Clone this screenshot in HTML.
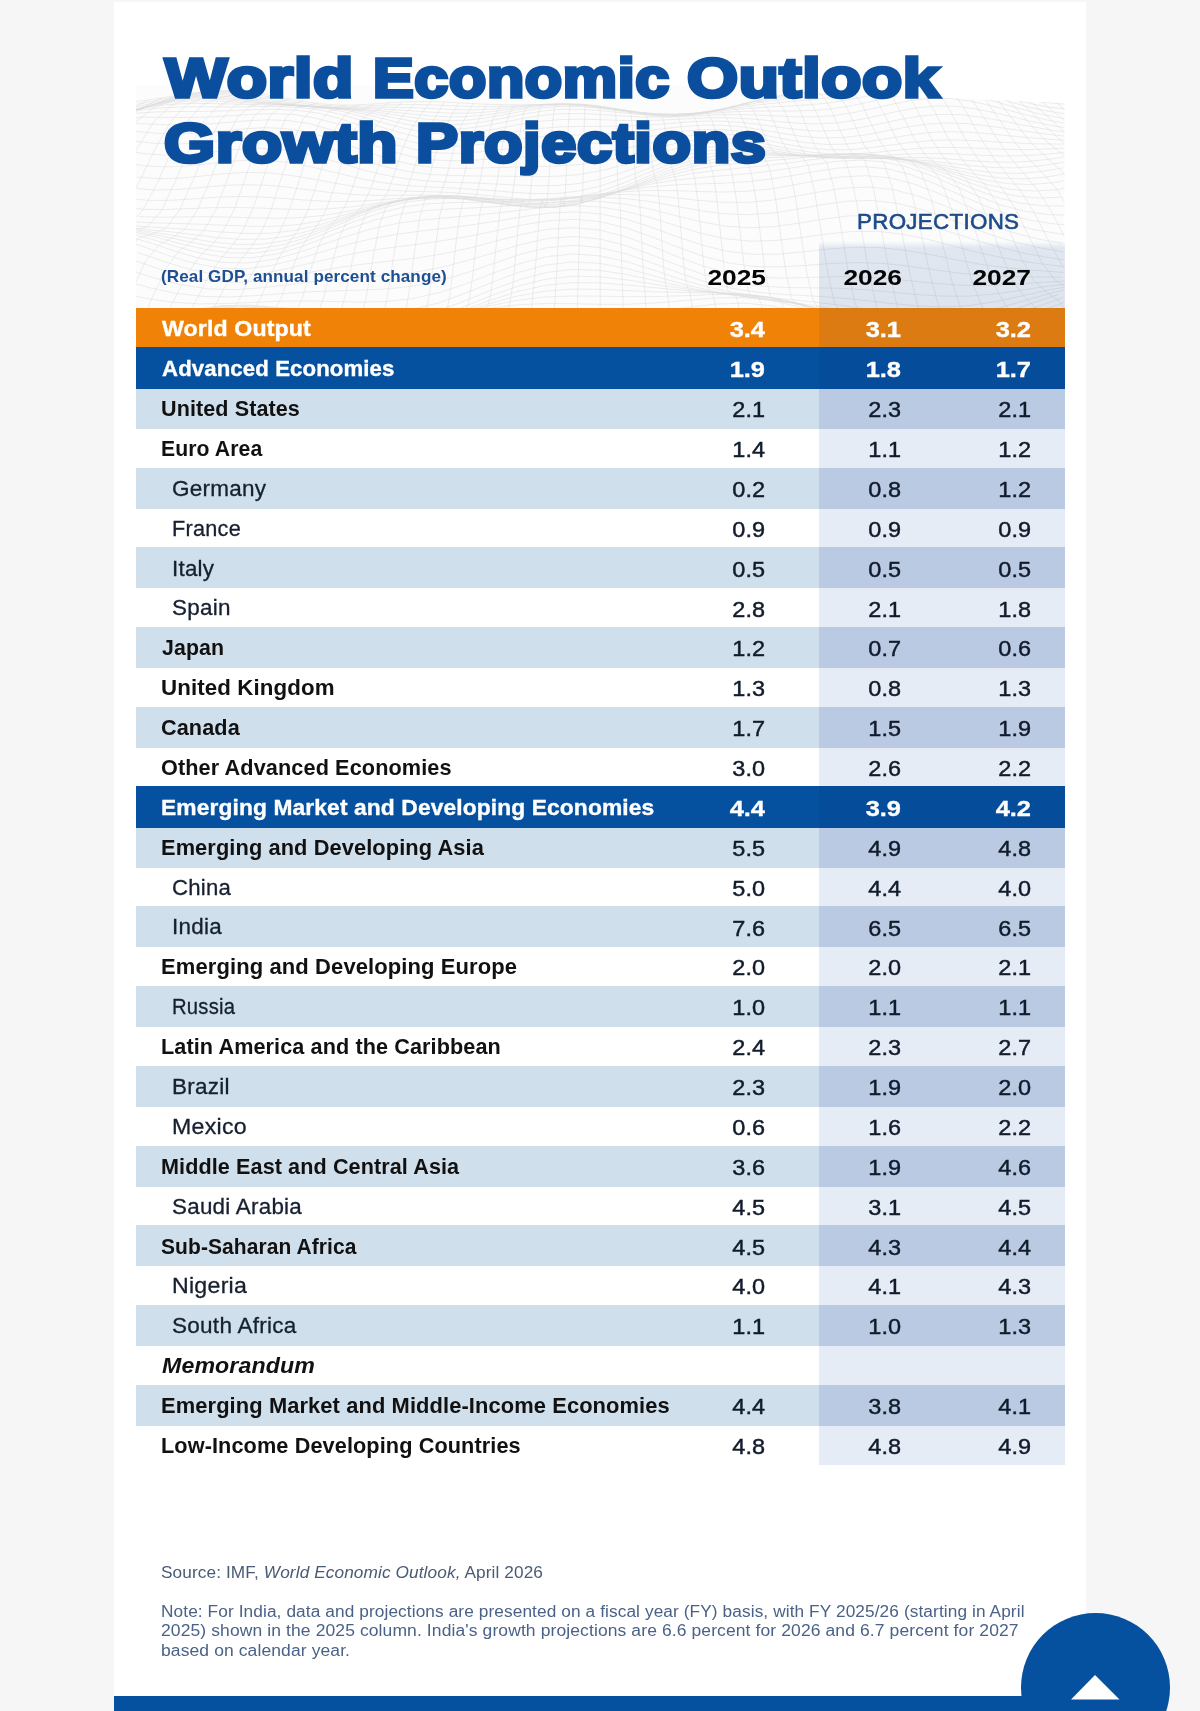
<!DOCTYPE html>
<html lang="en"><head><meta charset="utf-8"><title>World Economic Outlook Growth Projections</title>
<style>
html,body{margin:0;padding:0}
body{width:1200px;height:1711px;position:relative;overflow:hidden;background:#f6f6f6;font-family:'Liberation Sans',sans-serif;color:#111}
.abs,.t,.r,.p,.v,.h{position:absolute}
.t,.v,.h{white-space:nowrap;line-height:1;transform-origin:0 0}
#card{left:113.8px;top:2px;width:971.8px;height:1709px;background:#fff}
.r{left:136px;width:928.5px}
.p{left:819px;width:245.5px}
.orange{background:#f08307}.blue{background:#05509f}.light{background:#cfdfec}.white{background:#fff}
.p.orange{background:#dc7b12}.p.blue{background:#054c9a}.p.light{background:#b9cae2}.p.white{background:#e6ecf5}
.v{text-align:right;width:80px;transform-origin:100% 0}
.w{color:#fff;-webkit-text-stroke:.35px #fff}
.t,.v,.h{z-index:3}.r.blue,.p.blue{z-index:2}.r.light,.p.light{z-index:1}
.main,.memo{color:#111}.sub{color:#16202f}
.v.main,.v.sub{-webkit-text-stroke:.45px #111b2b;color:#111b2b}.t.sub{-webkit-text-stroke:.3px #16202f}
.h{color:#0a4e9d;-webkit-text-stroke:3.6px #0a4e9d;transform-origin:0 0;font:bold 55.8px/1 'Liberation Sans',sans-serif}
</style></head><body>
<div id="card" class="abs"></div>

<svg class="abs" style="left:136px;top:85.2px;clip-path:polygon(0 0,58% 0,72% 3%,100% 8%,100% 100%,0 100%)" width="928.5" height="223.0" viewBox="0 0 928.5 223.0"><rect width="928.5" height="223.0" fill="#fcfcfc"/><path d="M-13,17.9 5,16.0 22,13.5 40,10.6 58,7.9 75,6.1 93,5.6 111,6.7 128,9.2 146,12.5 164,15.8 181,18.5 199,19.9 217,20.0 234,19.2 252,17.9 270,16.9 288,16.5 305,16.9 323,17.8 341,18.8 358,19.6 376,19.9 394,19.8 411,19.6 429,19.9 447,20.9 464,23.0 482,25.8 500,28.6 517,30.9 535,31.7 553,30.7 570,28.0 588,24.0 606,19.3 623,14.8 641,11.0 659,8.1 676,6.1 694,4.6 712,3.1 729,1.4 747,-0.3 765,-1.9 782,-2.8 800,-2.6 818,-1.1 835,1.3 853,4.1 871,6.7 888,8.3 906,8.5 924,7.5 941,5.7 M-20,22.2 -2,19.7 16,16.4 34,12.7 52,9.4 70,7.1 88,6.4 106,7.5 124,10.1 141,13.6 159,17.0 177,19.7 195,21.2 213,21.4 231,20.9 249,20.1 267,19.5 285,19.6 303,20.2 321,21.0 339,21.6 357,21.7 375,21.1 393,20.1 410,19.2 428,19.0 446,19.9 464,22.0 482,24.8 500,27.8 518,30.1 536,30.9 554,29.8 572,27.1 590,23.1 608,18.6 626,14.4 644,10.9 662,8.1 679,5.9 697,4.0 715,1.9 733,-0.3 751,-2.6 769,-4.3 787,-5.1 805,-4.4 823,-2.2 841,1.0 859,4.7 877,7.9 895,10.1 913,10.8 930,10.2 948,8.7 M-9,23.8 9,19.8 28,15.3 46,11.4 64,8.7 82,7.8 100,8.8 119,11.4 137,14.8 155,18.1 173,20.7 191,22.2 210,22.7 228,22.5 246,22.2 264,22.3 282,22.9 301,23.8 319,24.6 337,24.8 355,24.2 373,22.7 391,20.9 410,19.3 428,18.7 446,19.4 464,21.4 482,24.3 501,27.3 519,29.5 537,30.2 555,29.1 573,26.5 592,22.8 610,18.7 628,15.0 646,11.9 664,9.4 683,7.1 701,4.9 719,2.3 737,-0.6 755,-3.3 773,-5.2 792,-5.8 810,-4.6 828,-1.8 846,2.2 864,6.6 883,10.5 901,13.2 919,14.3 937,14.2 M-15,27.8 3,23.0 22,17.9 40,13.4 58,10.4 77,9.2 95,10.1 114,12.6 132,15.7 151,18.8 169,21.2 188,22.7 206,23.3 224,23.6 243,24.0 261,24.9 280,26.1 298,27.4 317,28.2 335,28.1 354,26.8 372,24.6 390,22.0 409,19.8 427,18.8 446,19.3 464,21.2 483,24.1 501,27.0 520,29.0 538,29.6 556,28.5 575,26.1 593,22.9 612,19.5 630,16.4 649,13.9 667,11.7 686,9.6 704,7.0 723,3.9 741,0.6 759,-2.5 778,-4.5 796,-4.9 815,-3.3 833,0.1 852,4.8 870,9.7 889,14.1 907,17.2 925,18.9 944,19.3 M-3,25.9 15,20.3 34,15.4 53,12.0 71,10.7 90,11.4 109,13.5 128,16.4 146,19.1 165,21.2 184,22.5 202,23.4 221,24.3 240,25.5 258,27.2 277,29.2 296,31.0 315,31.9 333,31.5 352,29.7 371,26.8 389,23.6 408,20.9 427,19.6 446,19.9 464,21.7 483,24.4 502,27.0 520,28.8 539,29.2 558,28.2 576,26.1 595,23.5 614,20.9 633,18.7 651,16.9 670,15.2 689,13.2 707,10.4 726,7.0 745,3.2 764,-0.2 782,-2.3 801,-2.5 820,-0.6 838,3.3 857,8.5 876,13.9 894,18.6 913,22.1 932,24.2 M-10,28.3 9,22.3 28,17.1 47,13.7 66,12.2 85,12.7 104,14.4 123,16.8 142,19.0 161,20.7 180,22.0 199,23.2 218,24.6 237,26.7 256,29.4 275,32.3 294,34.6 313,35.7 332,35.1 350,32.9 369,29.5 388,25.9 407,22.9 426,21.4 445,21.5 464,23.1 483,25.4 502,27.7 521,29.1 540,29.3 559,28.4 578,26.6 597,24.7 616,23.1 635,21.9 654,21.0 673,19.8 692,18.0 711,15.1 730,11.4 749,7.2 768,3.6 787,1.5 806,1.4 825,3.7 844,7.9 862,13.3 881,18.9 900,23.8 919,27.4 938,29.9 M-16,30.1 3,24.0 22,18.8 41,15.4 61,13.9 80,14.1 99,15.4 118,17.2 137,18.9 157,20.2 176,21.4 195,22.8 214,25.0 234,28.0 253,31.7 272,35.4 291,38.4 310,39.7 330,39.1 349,36.7 368,33.0 387,29.2 407,26.0 426,24.3 445,24.3 464,25.6 483,27.5 503,29.3 522,30.2 541,30.1 560,29.2 580,27.9 599,26.7 618,26.1 637,26.0 656,26.0 676,25.5 695,23.9 714,21.0 733,17.0 753,12.6 772,8.9 791,6.8 810,6.9 829,9.3 849,13.7 868,19.1 887,24.6 906,29.4 926,33.1 945,35.8 M-3,25.5 16,20.6 36,17.3 55,15.9 75,15.9 94,16.8 114,18.0 133,19.0 153,19.9 172,21.0 192,22.7 211,25.6 231,29.6 250,34.4 269,39.0 289,42.5 308,44.2 328,43.6 347,41.2 367,37.4 386,33.5 406,30.4 425,28.7 445,28.5 464,29.4 484,30.8 503,31.9 523,32.2 542,31.7 562,30.7 581,29.8 601,29.5 620,30.0 640,30.9 659,31.8 679,31.9 698,30.6 717,27.7 737,23.6 756,19.2 776,15.4 795,13.4 815,13.6 834,16.1 854,20.4 873,25.5 893,30.7 912,35.2 932,38.8 M-9,26.9 10,22.5 30,19.7 50,18.5 70,18.4 89,18.9 109,19.4 129,19.8 148,20.2 168,21.2 188,23.3 208,26.9 227,31.9 247,37.6 267,43.0 287,47.1 306,49.2 326,48.8 346,46.4 366,42.9 385,39.1 405,36.2 425,34.6 445,34.2 464,34.7 484,35.4 504,35.6 523,35.2 543,34.2 563,33.1 583,32.6 602,33.1 622,34.5 642,36.5 662,38.2 681,38.9 701,37.9 721,35.1 741,31.0 760,26.6 780,22.9 800,21.0 820,21.3 839,23.8 859,27.8 879,32.4 898,37.0 918,40.9 938,44.2 M-16,28.6 4,25.0 24,22.9 44,22.0 64,21.8 84,21.9 104,21.8 124,21.5 144,21.5 164,22.5 184,25.0 204,29.2 224,35.0 244,41.6 264,47.7 284,52.4 304,54.8 324,54.7 344,52.6 364,49.4 384,46.0 404,43.4 424,41.9 444,41.4 464,41.4 484,41.2 504,40.5 524,39.2 544,37.6 564,36.3 584,36.1 604,37.3 624,39.6 644,42.4 664,44.9 684,46.1 704,45.3 724,42.7 744,38.7 764,34.5 784,31.1 804,29.4 824,29.7 844,32.0 864,35.5 884,39.5 904,43.2 924,46.4 944,49.2 M-2,28.3 19,27.0 39,26.5 59,26.5 79,26.2 100,25.5 120,24.6 140,24.3 160,25.2 181,27.9 201,32.8 221,39.3 241,46.6 262,53.3 282,58.3 302,61.0 322,61.2 343,59.5 363,56.8 383,54.0 403,51.9 424,50.6 444,49.9 464,49.2 485,48.1 505,46.3 525,44.0 545,41.7 566,40.2 586,40.2 606,41.8 626,44.9 647,48.4 667,51.5 687,53.0 707,52.5 728,50.1 748,46.4 768,42.5 788,39.4 809,38.0 829,38.5 849,40.5 869,43.3 890,46.3 910,49.0 930,51.3 M-7,32.5 13,32.2 34,32.4 54,32.5 75,31.9 95,30.7 116,29.3 136,28.6 157,29.5 177,32.5 198,37.9 218,44.9 239,52.6 259,59.6 280,64.9 300,67.8 321,68.4 341,67.1 362,65.0 382,62.9 403,61.3 423,60.3 444,59.3 464,58.0 485,55.9 505,52.9 526,49.5 546,46.4 567,44.5 587,44.6 608,46.6 628,50.1 649,54.2 669,57.6 690,59.4 710,59.1 731,56.9 751,53.6 772,50.2 792,47.7 813,46.6 833,47.2 854,48.8 874,50.9 895,52.8 915,54.3 936,55.5 M-13,37.9 7,38.8 28,39.7 49,40.0 70,39.2 90,37.6 111,35.8 132,34.8 153,35.6 174,38.8 194,44.4 215,51.8 236,59.6 257,66.7 277,72.0 298,75.0 319,75.8 340,75.1 360,73.8 381,72.4 402,71.4 423,70.6 443,69.4 464,67.4 485,64.2 506,59.9 527,55.3 547,51.4 568,49.1 589,49.1 610,51.3 630,55.1 651,59.4 672,62.9 693,64.8 713,64.7 734,62.8 755,60.0 776,57.3 797,55.4 817,54.9 838,55.5 859,56.8 880,58.0 900,58.8 921,59.0 942,59.1 M-19,44.5 2,46.7 23,48.4 44,48.9 65,48.0 86,46.0 107,43.9 128,42.7 149,43.5 170,46.8 191,52.5 212,59.8 233,67.5 254,74.3 275,79.4 296,82.3 317,83.3 338,83.2 359,82.6 380,82.1 401,81.7 422,81.1 443,79.7 464,76.8 485,72.5 506,67.0 527,61.3 548,56.5 569,53.7 590,53.5 611,55.6 632,59.4 653,63.7 674,67.1 696,69.0 717,69.0 738,67.5 759,65.4 780,63.5 801,62.4 822,62.5 843,63.3 864,64.2 885,64.6 906,64.2 927,63.2 948,62.2 M-4,55.8 17,58.2 39,59.1 60,58.1 81,56.0 102,53.6 124,52.2 145,53.0 166,56.2 188,61.8 209,68.8 230,76.0 251,82.2 273,86.7 294,89.4 315,90.5 337,90.9 358,91.1 379,91.4 400,91.6 422,91.2 443,89.5 464,85.9 486,80.4 507,73.8 528,67.0 549,61.4 571,58.1 592,57.5 613,59.5 635,63.0 656,66.9 677,70.1 698,71.8 720,71.9 741,70.8 762,69.5 783,68.6 805,68.5 826,69.3 847,70.4 869,71.0 890,70.6 911,69.1 932,67.0 M-10,65.9 12,69.1 33,70.2 55,69.3 77,67.0 98,64.6 120,63.2 141,63.8 163,66.9 184,72.1 206,78.5 227,84.8 249,90.1 270,93.8 292,96.0 313,97.2 335,97.9 357,98.9 378,99.9 400,100.8 421,100.5 443,98.5 464,94.1 486,87.6 507,79.9 529,72.2 550,65.9 572,62.1 593,61.1 615,62.6 637,65.7 658,69.1 680,71.8 701,73.1 723,73.3 744,72.8 766,72.4 787,72.6 809,73.7 830,75.3 852,76.8 874,77.2 895,76.2 917,73.7 938,70.5 M-15,76.6 6,80.5 28,81.9 50,81.1 72,78.9 94,76.4 115,75.0 137,75.6 159,78.5 181,83.1 203,88.5 224,93.6 246,97.6 268,100.3 290,101.8 312,102.8 333,104.0 355,105.5 377,107.3 399,108.6 421,108.5 442,106.1 464,101.1 486,93.7 508,85.2 530,76.7 551,69.9 573,65.6 595,64.2 617,65.2 639,67.6 660,70.2 682,72.2 704,73.2 726,73.5 748,73.6 769,74.2 791,75.7 813,78.1 835,80.7 857,82.5 878,82.9 900,81.4 922,78.2 944,74.2 M1,91.9 23,93.7 45,93.1 67,90.9 89,88.6 111,87.4 133,87.9 155,90.4 178,94.2 200,98.3 222,102.0 244,104.5 266,105.9 288,106.6 310,107.3 332,108.7 354,110.8 376,113.1 398,114.9 420,114.8 442,112.1 464,106.5 486,98.6 508,89.4 530,80.5 552,73.3 575,68.7 597,66.9 619,67.3 641,68.8 663,70.6 685,71.8 707,72.4 729,72.7 751,73.5 773,75.2 795,78.2 817,81.9 839,85.5 861,87.9 883,88.4 905,86.5 927,82.9 M-4,103.0 18,105.0 40,104.6 63,102.8 85,100.7 107,99.7 130,100.2 152,102.2 174,105.0 196,107.7 219,109.6 241,110.4 263,110.3 286,110.1 308,110.4 330,111.9 353,114.4 375,117.3 397,119.3 420,119.2 442,116.3 464,110.3 487,102.0 509,92.5 531,83.5 554,76.3 576,71.5 598,69.4 620,69.1 643,69.7 665,70.4 687,70.8 710,70.9 732,71.4 754,72.9 777,75.9 799,80.3 821,85.4 844,90.1 866,93.2 888,93.9 911,92.0 933,88.1 M-10,113.2 13,115.4 35,115.3 58,113.8 81,112.2 103,111.5 126,112.0 148,113.5 171,115.2 193,116.4 216,116.4 239,115.3 261,113.6 284,112.3 306,112.2 329,113.7 351,116.5 374,119.6 397,121.8 419,121.8 442,118.7 464,112.5 487,104.1 509,94.7 532,85.9 555,78.9 577,74.3 600,71.8 622,70.9 645,70.6 667,70.3 690,69.8 713,69.5 735,70.1 758,72.4 780,76.6 803,82.5 825,88.9 848,94.7 871,98.6 893,99.6 916,97.9 938,94.1 M-15,122.0 8,124.4 30,124.5 53,123.6 76,122.7 99,122.4 122,123.0 145,124.0 167,124.5 190,124.0 213,122.1 236,119.1 259,115.8 282,113.5 304,112.8 327,114.2 350,117.1 373,120.4 396,122.6 419,122.5 441,119.3 464,113.2 487,105.0 510,96.1 533,88.0 556,81.6 578,77.3 601,74.7 624,73.2 647,72.0 670,70.6 693,69.3 715,68.6 738,69.5 761,72.6 784,78.0 807,85.2 830,93.0 852,99.8 875,104.4 898,106.0 921,104.6 944,101.2 M3,131.6 26,132.2 49,131.9 72,131.7 95,132.1 118,132.8 141,133.3 164,132.7 187,130.5 210,126.7 233,121.8 256,117.1 280,113.7 303,112.5 326,113.6 349,116.5 372,119.8 395,122.0 418,121.8 441,118.7 464,112.8 487,105.2 510,97.2 534,90.1 557,84.6 580,80.8 603,78.3 626,76.3 649,74.3 672,72.0 695,69.9 718,68.9 741,70.1 764,73.9 787,80.5 811,89.0 834,97.9 857,105.7 880,110.9 903,113.0 926,112.2 M-3,137.0 21,138.0 44,138.6 67,139.3 91,140.3 114,141.3 137,141.4 161,139.7 184,136.0 207,130.4 231,123.8 254,117.7 277,113.4 301,111.6 324,112.5 348,115.2 371,118.4 394,120.3 418,120.1 441,117.0 464,111.7 488,105.0 511,98.3 534,92.5 558,88.3 581,85.3 604,83.1 628,80.8 651,78.0 674,74.9 698,72.1 721,71.0 744,72.4 768,77.0 791,84.5 814,94.0 838,103.9 861,112.4 884,118.2 908,120.9 931,120.8 M-8,140.5 16,142.0 39,143.5 63,145.2 87,147.1 110,148.5 134,148.2 157,145.7 181,140.6 205,133.4 228,125.4 252,118.2 275,113.1 299,110.8 323,111.4 346,113.8 370,116.6 393,118.2 417,117.8 441,115.0 464,110.3 488,104.9 511,99.8 535,95.7 559,93.0 582,91.1 606,89.2 629,86.8 653,83.4 677,79.6 700,76.4 724,75.1 747,76.8 771,82.0 795,90.4 818,100.7 842,111.1 865,120.1 889,126.3 913,129.6 936,130.3 M-13,142.3 11,144.5 35,146.9 59,149.8 82,152.7 106,154.4 130,154.1 154,150.8 178,144.6 202,136.2 226,127.1 250,119.0 273,113.3 297,110.6 321,110.8 345,112.7 369,115.0 393,116.2 417,115.6 440,113.1 464,109.3 488,105.3 512,102.1 536,100.0 560,99.0 584,98.3 607,97.0 631,94.5 655,90.8 679,86.5 703,83.0 727,81.6 751,83.7 774,89.4 798,98.3 822,108.9 846,119.6 870,128.7 894,135.2 918,138.9 941,140.4 M-18,142.9 6,145.7 30,149.2 54,153.3 78,157.2 102,159.5 127,159.1 151,155.3 175,148.3 199,139.0 223,129.2 247,120.6 271,114.5 295,111.6 320,111.3 344,112.7 368,114.3 392,114.9 416,114.0 440,111.8 464,109.1 488,106.7 512,105.5 537,105.6 561,106.4 585,107.0 609,106.4 633,104.1 657,100.1 681,95.6 705,91.9 730,90.7 754,92.9 778,99.0 802,108.1 826,118.7 850,129.3 874,138.2 898,144.6 922,148.6 947,150.8 M1,146.2 25,150.9 50,156.2 74,161.0 99,163.9 123,163.6 147,159.6 172,152.1 196,142.4 220,132.3 245,123.5 269,117.3 294,114.1 318,113.4 342,114.1 367,114.8 391,114.8 415,113.6 440,111.7 464,110.0 489,109.4 513,110.3 537,112.6 562,115.3 586,117.2 611,117.4 635,115.3 659,111.4 684,106.8 708,103.1 732,102.0 757,104.5 781,110.7 806,119.6 830,129.9 854,139.8 879,148.1 903,154.2 927,158.3 M-4,146.6 21,152.4 45,158.8 70,164.6 95,168.1 119,168.1 144,164.0 169,156.5 193,146.7 218,136.7 243,128.2 267,122.1 292,118.8 316,117.6 341,117.4 366,117.1 390,116.2 415,114.6 440,113.0 464,112.4 489,113.5 514,116.5 538,120.9 563,125.4 587,128.7 612,129.7 637,128.0 661,124.2 686,119.7 711,116.3 735,115.4 760,118.1 784,124.1 809,132.6 834,142.0 858,150.9 883,158.2 908,163.6 932,167.6 M-9,147.6 16,154.3 41,161.8 66,168.5 91,172.5 116,172.8 141,168.9 166,161.6 190,152.2 215,142.8 240,134.7 265,129.0 290,125.6 315,123.9 340,122.8 365,121.4 390,119.5 414,117.4 439,116.0 464,116.4 489,119.1 514,124.1 539,130.4 564,136.6 589,141.1 614,142.8 638,141.6 663,138.1 688,134.0 713,130.9 738,130.4 763,133.1 788,138.8 813,146.5 838,154.6 863,162.0 887,168.0 912,172.5 937,176.2 M-14,149.7 12,157.2 37,165.5 62,172.9 87,177.4 112,178.0 137,174.5 162,167.6 188,159.1 213,150.5 238,143.3 263,138.1 288,134.8 313,132.5 339,130.3 364,127.6 389,124.6 414,121.9 439,120.7 464,121.9 489,126.1 515,132.7 540,140.7 565,148.3 590,153.8 615,156.2 640,155.5 665,152.6 691,149.0 716,146.5 741,146.3 766,149.1 791,154.2 816,160.7 841,167.2 867,172.8 892,177.1 917,180.3 942,183.5 M-18,153.4 7,161.5 32,170.4 58,178.2 83,183.0 109,183.8 134,180.8 159,174.7 185,167.2 210,159.8 236,153.7 261,149.2 286,145.9 312,143.0 337,139.7 363,135.7 388,131.5 413,128.1 439,126.9 464,128.8 490,134.1 515,142.1 540,151.4 566,160.0 591,166.3 617,169.3 642,169.2 667,166.9 693,164.0 718,162.2 744,162.6 769,165.3 795,169.7 820,174.8 845,179.4 871,182.8 896,185.1 922,187.0 947,189.4 M2,167.5 28,176.6 54,184.4 79,189.3 105,190.3 131,187.8 156,182.6 182,176.4 208,170.5 233,165.7 259,162.0 285,158.8 310,155.2 336,150.7 362,145.3 387,139.8 413,135.7 439,134.3 464,136.7 490,142.8 516,151.8 541,161.9 567,171.2 593,178.0 618,181.5 644,181.9 670,180.4 695,178.5 721,177.5 747,178.4 772,181.1 798,184.7 824,188.2 849,190.6 875,191.7 901,191.9 926,192.2 M-2,175.3 24,184.2 50,191.7 75,196.3 101,197.4 127,195.3 153,191.2 179,186.4 205,182.1 231,178.7 257,175.8 283,172.7 309,168.4 335,162.7 361,155.9 386,149.2 412,144.3 438,142.7 464,145.2 490,151.8 516,161.3 542,171.9 568,181.4 594,188.4 620,192.2 646,193.2 672,192.5 698,191.7 723,191.8 749,193.3 775,195.9 801,198.6 827,200.4 853,200.6 879,199.3 905,197.4 931,196.0 M-7,184.9 19,193.1 45,199.8 72,203.8 98,204.7 124,203.0 150,200.0 176,196.7 202,194.1 229,192.1 255,190.0 281,186.9 307,182.0 333,175.1 360,167.0 386,159.2 412,153.4 438,151.5 464,154.0 490,160.7 517,170.3 543,180.7 569,190.1 595,196.9 621,200.9 648,202.5 674,202.8 700,203.2 726,204.5 752,206.8 778,209.3 805,211.1 831,211.2 857,209.2 883,205.6 909,201.6 935,198.6 M-12,195.9 15,203.0 41,208.5 68,211.5 94,211.9 121,210.5 147,208.5 173,206.8 200,205.8 226,205.1 253,203.8 279,200.8 306,195.2 332,187.3 359,178.0 385,169.1 411,162.7 438,160.3 464,162.6 491,169.1 517,178.3 544,188.2 570,197.0 596,203.4 623,207.4 649,209.5 676,211.0 702,212.8 729,215.4 755,218.4 781,221.0 808,222.0 834,220.5 861,216.4 887,210.7 914,204.7 940,200.3 M-16,207.9 10,213.4 37,217.2 64,218.9 91,218.6 117,217.4 144,216.2 171,215.9 197,216.5 224,217.1 251,216.5 277,213.5 304,207.4 331,198.5 357,188.2 384,178.6 411,171.6 438,168.9 464,170.9 491,176.8 518,185.2 544,194.1 571,201.9 598,207.7 624,211.6 651,214.3 678,217.0 705,220.3 731,224.2 758,228.2 785,230.9 811,231.2 838,228.3 865,222.4 891,214.8 918,207.3 945,201.6 M6,223.8 33,225.6 60,225.7 87,224.5 114,223.2 141,222.8 168,223.7 195,225.6 222,227.4 249,227.4 276,224.4 303,217.8 329,208.3 356,197.4 383,187.2 410,180.0 437,176.9 464,178.4 491,183.6 518,190.9 545,198.5 572,205.0 599,210.0 626,213.7 653,217.1 680,220.9 707,225.8 734,231.2 761,236.2 788,239.2 815,238.9 842,234.8 869,227.5 895,218.5 922,209.7 M2,233.8 29,233.3 56,231.4 83,229.0 111,227.5 138,227.6 165,229.6 192,232.7 219,235.4 247,235.9 274,232.9 301,226.1 328,216.2 355,205.1 383,194.8 410,187.5 437,184.3 464,185.4 491,189.6 519,195.5 546,201.5 573,206.6 600,210.6 628,214.1 655,218.1 682,223.2 709,229.7 736,236.6 764,242.6 791,245.9 818,245.4 845,240.5 872,232.2 900,222.1 927,212.5 M-3,242.8 25,239.7 52,235.7 80,232.0 107,230.1 135,230.6 162,233.4 190,237.5 217,240.9 245,241.7 272,238.9 299,232.0 327,222.1 354,211.1 382,201.2 409,194.3 437,191.2 464,191.8 492,195.0 519,199.4 547,203.6 574,207.1 602,210.1 629,213.4 657,218.0 684,224.4 711,232.5 739,240.9 766,247.9 794,251.7 821,251.0 849,245.7 876,236.8 904,226.3 931,216.4 M-7,250.5 21,244.6 48,238.4 76,233.4 104,231.0 132,231.7 159,235.1 187,239.8 215,243.7 242,244.8 270,242.1 298,235.4 326,226.0 353,215.7 381,206.6 409,200.4 437,197.6 464,197.9 492,200.1 520,202.9 547,205.4 575,207.2 603,209.2 631,212.3 658,217.5 686,225.2 714,234.8 742,244.6 769,252.6 797,256.9 825,256.3 852,250.9 880,242.0 908,231.6 936,221.9 M-11,256.5 17,248.0 45,239.7 72,233.3 100,230.3 128,231.0 156,234.7 184,239.8 212,244.0 240,245.3 268,242.9 296,236.7 324,228.1 352,219.0 380,211.3 408,206.2 436,204.1 464,204.3 492,205.6 520,206.8 548,207.4 576,207.8 604,208.8 632,211.7 660,217.6 688,226.4 716,237.3 744,248.3 772,257.2 800,262.0 828,261.7 856,256.6 884,248.1 912,238.3 940,229.2 M-16,260.9 12,249.8 41,239.6 69,231.9 97,228.3 125,228.9 154,232.8 182,237.9 210,242.2 238,243.7 267,241.6 295,236.2 323,228.9 351,221.4 380,215.6 408,212.1 436,211.0 464,211.2 492,211.7 521,211.6 549,210.6 577,209.5 605,209.6 634,212.5 662,218.9 690,228.7 718,240.7 747,252.7 775,262.2 803,267.5 831,267.6 860,263.1 888,255.4 916,246.7 944,238.7 M8,250.5 37,238.5 65,229.8 94,225.6 122,226.0 151,229.8 179,234.8 208,238.9 236,240.5 265,238.8 293,234.5 322,228.9 350,223.7 379,220.1 407,218.6 436,218.7 464,219.3 493,219.2 521,217.9 550,215.4 578,213.1 607,212.5 635,215.3 664,222.2 692,232.8 721,245.6 749,258.1 778,268.1 806,273.7 835,274.3 863,270.6 892,264.1 920,256.8 M4,250.3 33,237.0 62,227.5 90,222.9 119,223.0 148,226.5 177,231.2 205,235.0 234,236.5 263,235.4 292,232.4 320,228.9 349,226.2 378,225.3 407,226.1 435,227.8 464,228.9 493,228.5 522,226.1 551,222.5 579,219.2 608,218.1 637,220.9 666,228.1 694,239.2 723,252.3 752,265.0 781,275.1 809,280.8 838,281.8 867,279.1 896,274.0 924,268.5 M0,249.9 29,235.8 58,225.9 87,221.0 116,220.8 145,223.8 174,227.9 203,231.2 232,232.7 261,232.2 290,230.7 319,229.6 348,229.8 377,231.8 406,235.1 435,238.5 464,240.4 493,239.8 522,236.8 551,232.3 580,228.3 609,226.9 638,229.6 667,236.9 696,248.1 725,261.1 754,273.6 783,283.2 812,288.8 841,290.2 870,288.5 899,285.0 928,281.4 M-4,249.9 25,235.6 54,225.6 84,220.6 113,220.1 142,222.5 172,225.8 201,228.5 230,229.8 259,230.0 289,230.2 318,231.5 347,234.8 376,239.9 406,245.9 435,251.0 464,253.8 494,253.3 523,249.9 552,244.9 581,240.5 611,238.8 640,241.5 669,248.8 698,259.7 728,272.1 757,283.7 786,292.5 816,297.6 845,299.2 874,298.4 903,296.6 933,294.9 M-8,251.0 21,237.0 51,227.4 80,222.5 110,221.7 139,223.3 169,225.7 198,227.6 228,228.7 258,229.6 287,231.5 317,235.4 346,241.7 376,249.9 405,258.4 435,265.4 464,269.1 494,269.0 523,265.4 553,260.2 582,255.6 612,253.9 641,256.5 671,263.5 700,273.6 730,284.9 760,295.0 789,302.5 819,306.8 848,308.4 878,308.4 907,308.2 937,308.4 M-2.4,17 -21.9,29 -41.5,38 -61.0,40 -80.6,40 -100.2,46 -119.7,60 -139.3,82 -158.8,102 -178.4,120 -198.0,138 -217.5,165 -237.1,206 -256.6,252 -276.2,290 -295.8,307 -315.3,301 M11.8,15 -7.2,26 -26.2,33 -45.1,36 -64.1,38 -83.1,47 -102.0,64 -121.0,87 -140.0,107 -158.9,123 -177.9,139 -196.9,165 -215.8,206 -234.8,253 -253.8,291 -272.7,307 -291.7,302 M25.9,13 7.5,22 -10.8,28 -29.2,32 -47.6,37 -66.0,49 -84.3,70 -102.7,94 -121.1,113 -139.5,127 -157.8,140 -176.2,164 -194.6,204 -213.0,251 -231.3,289 -249.7,306 -268.1,303 M40.1,11 22.3,18 4.5,24 -13.3,28 -31.1,36 -48.9,52 -66.6,76 -84.4,101 -102.2,120 -120.0,130 -137.8,141 -155.5,162 -173.3,200 -191.1,247 -208.9,287 -226.7,306 -244.5,305 M54.2,8 37.0,14 19.8,19 2.6,25 -14.6,35 -31.8,55 -48.9,82 -66.1,109 -83.3,126 -100.5,134 -117.7,141 -134.9,159 -152.1,196 -169.3,243 -186.5,284 -203.6,306 -220.8,308 M68.3,7 51.7,11 35.1,16 18.5,22 1.9,35 -14.6,58 -31.2,88 -47.8,115 -64.4,131 -81.0,137 -97.6,140 -114.2,157 -130.8,192 -147.4,239 -164.0,281 -180.6,306 -197.2,311 M82.5,6 66.5,9 50.5,14 34.5,21 18.5,36 2.5,61 -13.5,92 -29.6,120 -45.6,136 -61.6,139 -77.6,140 -93.6,155 -109.6,189 -125.6,236 -141.6,279 -157.6,305 -173.6,312 M96.6,6 81.2,9 65.8,13 50.4,20 35.0,36 19.6,63 4.1,95 -11.3,124 -26.7,139 -42.1,141 -57.5,141 -72.9,155 -88.3,189 -103.7,235 -119.1,277 -134.6,303 -150.0,311 M110.8,7 95.9,10 81.1,14 66.3,20 51.5,36 36.7,63 21.8,97 7.0,125 -7.8,140 -22.6,143 -37.4,144 -52.2,158 -67.1,191 -81.9,235 -96.7,275 -111.5,299 -126.3,307 M124.9,9 110.7,12 96.4,15 82.2,21 68.0,36 53.8,63 39.5,96 25.3,126 11.1,142 -3.1,145 -17.4,148 -31.6,162 -45.8,194 -60.0,236 -74.3,272 -88.5,293 -102.7,300 M139.0,11 125.4,14 111.8,16 98.1,21 84.5,35 70.9,61 57.2,95 43.6,125 30.0,143 16.3,149 2.7,153 -10.9,169 -24.6,199 -38.2,237 -51.8,268 -65.5,285 -79.1,290 M153.2,14 140.1,17 127.1,18 114.1,21 101.0,33 88.0,59 74.9,93 61.9,124 48.9,144 35.8,153 22.8,160 9.7,176 -3.3,204 -16.3,237 -29.4,263 -42.4,274 -55.5,278 M167.3,16 154.9,19 142.4,19 130.0,21 117.5,32 105.1,57 92.6,91 80.2,124 67.7,146 55.3,157 42.8,166 30.4,183 17.9,209 5.5,237 -7.0,256 -19.4,262 -31.8,264 M181.5,18 169.6,21 157.7,20 145.9,21 134.0,31 122.2,56 110.3,90 98.5,124 86.6,147 74.8,161 62.9,172 51.1,189 39.2,213 27.3,236 15.5,249 3.6,250 -8.2,251 M195.6,20 184.3,22 173.1,21 161.8,22 150.5,32 139.3,57 128.0,91 116.8,124 105.5,148 94.2,163 83.0,176 71.7,193 60.4,215 49.2,234 37.9,241 26.7,239 15.4,240 M209.7,20 199.1,23 188.4,22 177.7,23 167.1,34 156.4,59 145.7,92 135.0,125 124.4,149 113.7,164 103.0,177 92.4,195 81.7,216 71.0,231 60.4,235 49.7,231 39.0,231 M223.9,20 213.8,23 203.7,24 193.6,26 183.6,37 173.5,62 163.4,95 153.3,125 143.3,148 133.2,162 123.1,176 113.0,194 103.0,215 92.9,229 82.8,231 72.7,225 62.6,225 M238.0,19 228.5,24 219.0,25 209.6,29 200.1,42 190.6,67 181.1,98 171.6,126 162.1,145 152.7,158 143.2,172 133.7,192 124.2,214 114.7,229 105.2,230 95.8,222 86.3,222 M252.2,18 243.3,24 234.4,28 225.5,34 216.6,48 207.7,72 198.8,101 189.9,125 181.0,141 172.1,152 163.2,166 154.4,188 145.5,212 136.6,229 127.7,231 118.8,223 109.9,222 M266.3,17 258.0,24 249.7,30 241.4,39 233.1,54 224.8,78 216.5,103 208.2,123 199.9,135 191.6,144 183.3,159 175.0,184 166.7,212 158.4,231 150.1,233 141.8,225 133.5,223 M280.4,17 272.7,25 265.0,33 257.3,44 249.6,60 241.9,83 234.2,105 226.5,121 218.8,129 211.1,136 203.4,152 195.7,180 188.0,211 180.3,233 172.6,237 164.8,229 157.1,225 M294.6,17 287.5,26 280.3,36 273.2,48 266.1,65 259.0,87 251.9,107 244.8,118 237.7,122 230.6,128 223.4,145 216.3,176 209.2,211 202.1,236 195.0,241 187.9,232 180.8,227 M308.7,17 302.2,27 295.7,38 289.2,51 282.6,69 276.1,90 269.6,107 263.1,115 256.6,117 250.0,122 243.5,140 237.0,173 230.5,211 224.0,238 217.4,244 210.9,235 204.4,228 M322.9,18 316.9,28 311.0,39 305.1,53 299.1,71 293.2,92 287.3,108 281.4,114 275.4,113 269.5,117 263.6,136 257.7,171 251.7,210 245.8,238 239.9,245 233.9,236 228.0,229 M337.0,19 331.7,28 326.3,38 321.0,53 315.7,72 310.3,93 305.0,108 299.6,113 294.3,111 289.0,114 283.6,133 278.3,168 273.0,208 267.6,236 262.3,244 257.0,235 251.6,229 M351.1,19 346.4,27 341.6,37 336.9,51 332.2,72 327.4,93 322.7,109 317.9,113 313.2,111 308.5,113 303.7,131 299.0,165 294.2,204 289.5,232 284.7,239 280.0,233 275.3,231 M365.3,20 361.1,26 357.0,34 352.8,49 348.7,70 344.5,94 340.4,110 336.2,115 332.1,112 327.9,113 323.8,129 319.6,161 315.5,198 311.3,225 307.2,234 303.0,231 298.9,233 M379.4,20 375.9,24 372.3,31 368.7,46 365.2,69 361.6,94 358.1,112 354.5,118 351.0,114 347.4,114 343.8,128 340.3,157 336.7,191 333.2,216 329.6,227 326.1,228 322.5,236 M393.6,20 390.6,22 387.6,28 384.7,43 381.7,68 378.7,95 375.8,114 372.8,120 369.8,117 366.9,115 363.9,126 361.0,152 358.0,183 355.0,208 352.1,220 349.1,227 346.1,242 M407.7,20 405.3,20 402.9,26 400.6,41 398.2,67 395.8,95 393.5,116 391.1,122 388.7,118 386.4,115 384.0,124 381.6,147 379.2,176 376.9,199 374.5,214 372.1,226 369.8,248 M421.8,20 420.1,19 418.3,24 416.5,39 414.7,66 412.9,95 411.2,116 409.4,123 407.6,118 405.8,114 404.0,122 402.3,143 400.5,169 398.7,193 396.9,209 395.2,227 393.4,255 M436.0,20 434.8,19 433.6,23 432.4,39 431.2,65 430.0,94 428.9,115 427.7,122 426.5,117 425.3,113 424.1,120 422.9,140 421.7,166 420.6,188 419.4,207 418.2,228 417.0,262 M450.1,21 449.5,20 448.9,24 448.3,39 447.7,64 447.1,92 446.6,112 446.0,118 445.4,114 444.8,111 444.2,119 443.6,140 443.0,165 442.4,187 441.8,206 441.2,229 440.6,266 M464.2,23 464.2,21 464.2,25 464.2,39 464.2,63 464.2,89 464.2,108 464.2,113 464.2,110 464.2,110 464.2,120 464.2,142 464.2,167 464.2,188 464.2,206 464.2,230 464.2,269 M478.4,25 479.0,23 479.6,26 480.2,39 480.8,61 481.4,85 481.9,101 482.5,107 483.1,106 483.7,109 484.3,123 484.9,147 485.5,172 486.1,191 486.7,207 487.3,230 487.9,269 M492.5,28 493.7,26 494.9,28 496.1,39 497.3,58 498.5,79 499.6,94 500.8,100 502.0,102 503.2,109 504.4,128 505.6,154 506.8,178 507.9,195 509.1,208 510.3,229 511.5,267 M506.7,30 508.4,28 510.2,29 512.0,38 513.8,55 515.6,73 517.3,87 519.1,93 520.9,98 522.7,110 524.5,133 526.2,162 528.0,186 529.8,199 531.6,208 533.3,226 535.1,263 M520.8,31 523.2,29 525.6,30 527.9,37 530.3,52 532.7,68 535.0,80 537.4,87 539.8,95 542.1,112 544.5,140 546.9,170 549.3,193 551.6,203 554.0,208 556.4,223 558.7,259 M534.9,32 537.9,30 540.9,30 543.8,36 546.8,49 549.8,63 552.7,74 555.7,82 558.7,93 561.6,114 564.6,145 567.5,178 570.5,200 573.5,207 576.4,208 579.4,220 582.4,256 M549.1,31 552.6,29 556.2,29 559.8,35 563.3,47 566.9,60 570.4,70 574.0,78 577.5,91 581.1,116 584.7,150 588.2,184 591.8,205 595.3,210 598.9,209 602.4,219 606.0,254 M563.2,29 567.4,27 571.5,28 575.7,35 579.8,47 584.0,59 588.1,68 592.3,76 596.4,90 600.6,116 604.7,152 608.9,187 613.0,208 617.2,212 621.3,210 625.5,220 629.6,255 M577.4,27 582.1,25 586.9,27 591.6,35 596.3,47 601.1,59 605.8,67 610.6,74 615.3,88 620.0,115 624.8,153 629.5,189 634.3,211 639.0,215 643.8,214 648.5,224 653.2,259 M591.5,23 596.8,22 602.2,26 607.5,36 612.8,50 618.2,61 623.5,68 628.9,73 634.2,86 639.5,113 644.9,152 650.2,189 655.5,213 660.9,219 666.2,219 671.5,231 676.9,265 M605.6,19 611.6,19 617.5,25 623.4,38 629.4,53 635.3,64 641.2,69 647.1,72 653.1,83 659.0,110 664.9,149 670.8,188 676.8,214 682.7,224 688.6,227 694.6,240 700.5,274 M619.8,16 626.3,17 632.8,25 639.3,40 645.9,56 652.4,67 658.9,70 665.4,71 671.9,80 678.5,106 685.0,146 691.5,187 698.0,216 704.5,229 711.1,236 717.6,251 724.1,283 M633.9,12 641.0,15 648.2,25 655.3,42 662.4,59 669.5,70 676.6,71 683.7,70 690.8,78 697.9,103 705.1,143 712.2,187 719.3,219 726.4,235 733.5,245 740.6,261 747.7,291 M648.1,10 655.8,13 663.5,24 671.2,43 678.9,61 686.6,72 694.3,72 702.0,69 709.7,76 717.4,101 725.1,142 732.8,187 740.5,221 748.2,241 755.9,253 763.7,270 771.4,298 M662.2,8 670.5,11 678.8,24 687.1,43 695.4,62 703.7,73 712.0,72 720.3,69 728.6,75 736.9,101 745.2,143 753.5,188 761.8,224 770.1,246 778.4,260 786.7,278 795.0,304 M676.3,6 685.2,9 694.1,22 703.0,43 711.9,62 720.8,73 729.7,72 738.6,69 747.5,77 756.4,103 765.3,145 774.1,190 783.0,226 791.9,248 800.8,263 809.7,282 818.6,307 M690.5,5 700.0,7 709.5,20 718.9,40 728.4,61 737.9,72 747.4,73 756.9,72 766.4,81 775.8,108 785.3,149 794.8,193 804.3,227 813.8,248 823.3,264 832.7,283 842.2,308 M704.6,4 714.7,5 724.8,17 734.9,38 744.9,58 755.0,71 765.1,74 775.2,76 785.2,87 795.3,114 805.4,154 815.5,195 825.5,226 835.6,245 845.7,261 855.8,282 865.9,309 M718.8,2 729.4,2 740.1,14 750.8,34 761.4,56 772.1,70 782.8,77 793.5,81 804.1,94 814.8,122 825.5,160 836.1,197 846.8,223 857.5,239 868.1,255 878.8,278 889.5,308 M732.9,1 744.2,-0 755.4,10 766.7,31 778.0,53 789.2,70 800.5,79 811.7,87 823.0,103 834.3,131 845.5,165 856.8,197 868.1,218 879.3,232 890.6,248 901.8,274 913.1,308 M747.0,-0 758.9,-3 770.8,7 782.6,28 794.5,52 806.3,71 818.2,83 830.0,94 841.9,111 853.7,138 865.6,170 877.4,197 889.3,213 901.2,224 913.0,240 924.9,270 936.7,308 M761.2,-2 773.6,-4 786.1,6 798.5,26 811.0,51 823.4,71 835.9,86 848.3,99 860.8,118 873.2,145 885.7,174 898.1,196 910.6,207 923.0,216 935.5,233 947.9,266 960.3,309 M775.3,-3 788.4,-5 801.4,5 814.4,26 827.5,51 840.5,72 853.6,88 866.6,104 879.6,124 892.7,151 905.7,177 918.8,195 931.8,203 944.8,209 957.9,227 970.9,263 984.0,309 M789.5,-3 803.1,-5 816.7,6 830.4,27 844.0,52 857.6,73 871.3,90 884.9,106 898.5,128 912.2,155 925.8,180 939.4,195 953.1,200 966.7,205 980.3,223 994.0,260 1007.6,308 M803.6,-2 817.8,-3 832.1,9 846.3,30 860.5,53 874.7,73 889.0,90 903.2,107 917.4,130 931.6,158 945.9,182 960.1,196 974.3,199 988.5,202 1002.8,220 1017.0,258 1031.2,306 M817.7,-1 832.6,-0 847.4,12 862.2,33 877.0,55 891.8,73 906.7,88 921.5,105 936.3,130 951.1,160 965.9,186 980.7,199 995.6,201 1010.4,202 1025.2,218 1040.0,254 1054.8,301 M831.9,1 847.3,3 862.7,16 878.1,36 893.5,56 908.9,71 924.4,85 939.8,103 955.2,130 970.6,162 986.0,189 1001.4,203 1016.8,204 1032.2,203 1047.6,217 1063.1,250 1078.5,294 M846.0,3 862.0,7 878.0,21 894.0,39 910.0,56 926.0,69 942.0,81 958.1,100 974.1,129 990.1,164 1006.1,194 1022.1,208 1038.1,208 1054.1,205 1070.1,215 1086.1,245 1102.1,285 M860.2,5 876.8,11 893.4,25 910.0,42 926.6,57 943.1,67 959.7,78 976.3,97 992.9,128 1009.5,166 1026.1,198 1042.7,213 1059.3,212 1075.9,207 1092.5,213 1109.1,238 1125.7,275 M874.3,7 891.5,14 908.7,29 925.9,45 943.1,58 960.3,66 977.4,75 994.6,94 1011.8,128 1029.0,168 1046.2,202 1063.4,217 1080.6,215 1097.8,207 1115.0,210 1132.1,232 1149.3,264 M888.4,8 906.2,17 924.0,32 941.8,47 959.6,58 977.4,65 995.1,73 1012.9,93 1030.7,128 1048.5,169 1066.3,204 1084.0,219 1101.8,216 1119.6,206 1137.4,207 1155.2,226 1173.0,256 M902.6,9 921.0,18 939.3,34 957.7,50 976.1,60 994.5,66 1012.8,74 1031.2,93 1049.6,128 1068.0,170 1086.3,204 1104.7,219 1123.1,215 1141.5,204 1159.8,204 1178.2,221 1196.6,249 M916.7,8 935.7,19 954.7,36 973.6,52 992.6,63 1011.6,68 1030.5,75 1049.5,94 1068.5,128 1087.4,169 1106.4,202 1125.4,216 1144.3,211 1163.3,201 1182.3,202 1201.2,219 1220.2,246 M930.9,7 950.4,19 970.0,37 989.5,55 1009.1,66 1028.7,71 1048.2,78 1067.8,96 1087.3,128 1106.9,167 1126.5,197 1146.0,210 1165.6,206 1185.1,198 1204.7,201 1224.3,220 1243.8,247" fill="none" stroke="#dcdcdc" stroke-width=".7" stroke-opacity=".75"/></svg>
<div class="abs" style="left:819px;top:241px;width:245.8px;height:68.19999999999999px;background:linear-gradient(#fff 0,#e4eaf3 7px,#e0e7f1 100%);mix-blend-mode:multiply"></div>
<div class="h" id="tw1" style="left:165.02px;top:49.5px;letter-spacing:0.600px;transform:scaleX(1.1802)">World</div>
<div class="h" id="tw2" style="left:372.50px;top:49.5px;letter-spacing:0.600px;transform:scaleX(1.0938)">Economic</div>
<div class="h" id="tw3" style="left:687.18px;top:49.5px;letter-spacing:0.600px;transform:scaleX(1.1769)">Outlook</div>
<div class="h" id="tw4" style="left:164.00px;top:115.1px;letter-spacing:0.600px;transform:scaleX(1.1769)">Growth</div>
<div class="h" id="tw5" style="left:415.50px;top:115.1px;letter-spacing:0.600px;transform:scaleX(1.1292)">Projections</div>
<div class="t" id="realgdp" style="left:161.00px;top:267.9px;font:bold 16.3px/1 'Liberation Sans',sans-serif;color:#1c4f93;letter-spacing:0.1px;transform:scaleX(1.0484);">(Real GDP, annual percent change)</div>
<div class="t" id="proj" style="left:857.08px;top:210.8px;font:normal 22px/1 'Liberation Sans',sans-serif;color:#1d4b88;-webkit-text-stroke:.6px #1d4b88;letter-spacing:0.3px;transform:scaleX(1.0158);">PROJECTIONS</div>
<div class="v" style="left:686.0px;top:265.6px;font:bold 22.8px/1 'Liberation Sans',sans-serif;color:#050505;transform:scaleX(1.155)">2025</div>
<div class="v" style="left:821.8px;top:265.6px;font:bold 22.8px/1 'Liberation Sans',sans-serif;color:#050505;transform:scaleX(1.155)">2026</div>
<div class="v" style="left:950.5px;top:265.6px;font:bold 22.8px/1 'Liberation Sans',sans-serif;color:#050505;transform:scaleX(1.155)">2027</div>
<div class="r orange" style="top:308.20px;height:40.18px"></div>
<div class="p orange" style="top:308.20px;height:40.18px"></div>
<div class="t w" id="r0" style="left:161.90px;top:318.29px;font:bold 21.8px/1 'Liberation Sans',sans-serif;letter-spacing:0.1px;transform:scaleX(1.0629)">World Output</div>
<div class="v w" style="left:685.0px;top:318.34px;font:bold 22.8px/1 'Liberation Sans',sans-serif;transform:scaleX(1.115)">3.4</div>
<div class="v w" style="left:820.6px;top:318.34px;font:bold 22.8px/1 'Liberation Sans',sans-serif;transform:scaleX(1.115)">3.1</div>
<div class="v w" style="left:950.7px;top:318.34px;font:bold 22.8px/1 'Liberation Sans',sans-serif;transform:scaleX(1.115)">3.2</div>
<div class="r blue" style="top:347.38px;height:41.68px"></div>
<div class="p blue" style="top:347.38px;height:41.68px"></div>
<div class="t w" id="r1" style="left:161.90px;top:358.17px;font:bold 21.8px/1 'Liberation Sans',sans-serif;letter-spacing:0.1px;transform:scaleX(1.0184)">Advanced Economies</div>
<div class="v w" style="left:685.0px;top:358.22px;font:bold 22.8px/1 'Liberation Sans',sans-serif;transform:scaleX(1.115)">1.9</div>
<div class="v w" style="left:820.6px;top:358.22px;font:bold 22.8px/1 'Liberation Sans',sans-serif;transform:scaleX(1.115)">1.8</div>
<div class="v w" style="left:950.7px;top:358.22px;font:bold 22.8px/1 'Liberation Sans',sans-serif;transform:scaleX(1.115)">1.7</div>
<div class="r light" style="top:387.96px;height:40.98px"></div>
<div class="p light" style="top:387.96px;height:40.98px"></div>
<div class="t main" id="r2" style="left:161.00px;top:398.05px;font:bold 21.8px/1 'Liberation Sans',sans-serif;letter-spacing:0.1px;transform:scaleX(0.9880)">United States</div>
<div class="v main" style="left:685.0px;top:398.10px;font:normal 22.8px/1 'Liberation Sans',sans-serif;transform:scaleX(1.03)">2.1</div>
<div class="v main" style="left:820.6px;top:398.10px;font:normal 22.8px/1 'Liberation Sans',sans-serif;transform:scaleX(1.03)">2.3</div>
<div class="v main" style="left:950.7px;top:398.10px;font:normal 22.8px/1 'Liberation Sans',sans-serif;transform:scaleX(1.03)">2.1</div>
<div class="r white" style="top:427.84px;height:40.18px"></div>
<div class="p white" style="top:427.84px;height:40.18px"></div>
<div class="t main" id="r3" style="left:161.00px;top:437.93px;font:bold 21.8px/1 'Liberation Sans',sans-serif;letter-spacing:0.1px;transform:scaleX(0.9720)">Euro Area</div>
<div class="v main" style="left:685.0px;top:437.98px;font:normal 22.8px/1 'Liberation Sans',sans-serif;transform:scaleX(1.03)">1.4</div>
<div class="v main" style="left:820.6px;top:437.98px;font:normal 22.8px/1 'Liberation Sans',sans-serif;transform:scaleX(1.03)">1.1</div>
<div class="v main" style="left:950.7px;top:437.98px;font:normal 22.8px/1 'Liberation Sans',sans-serif;transform:scaleX(1.03)">1.2</div>
<div class="r light" style="top:467.72px;height:40.98px"></div>
<div class="p light" style="top:467.72px;height:40.98px"></div>
<div class="t sub" id="r4" style="left:172.24px;top:477.81px;font:normal 21.8px/1 'Liberation Sans',sans-serif;letter-spacing:0.25px;transform:scaleX(1.0323)">Germany</div>
<div class="v sub" style="left:685.0px;top:477.86px;font:normal 22.8px/1 'Liberation Sans',sans-serif;transform:scaleX(1.03)">0.2</div>
<div class="v sub" style="left:820.6px;top:477.86px;font:normal 22.8px/1 'Liberation Sans',sans-serif;transform:scaleX(1.03)">0.8</div>
<div class="v sub" style="left:950.7px;top:477.86px;font:normal 22.8px/1 'Liberation Sans',sans-serif;transform:scaleX(1.03)">1.2</div>
<div class="r white" style="top:507.60px;height:40.18px"></div>
<div class="p white" style="top:507.60px;height:40.18px"></div>
<div class="t sub" id="r5" style="left:172.24px;top:517.69px;font:normal 21.8px/1 'Liberation Sans',sans-serif;letter-spacing:0.25px;transform:scaleX(0.9949)">France</div>
<div class="v sub" style="left:685.0px;top:517.74px;font:normal 22.8px/1 'Liberation Sans',sans-serif;transform:scaleX(1.03)">0.9</div>
<div class="v sub" style="left:820.6px;top:517.74px;font:normal 22.8px/1 'Liberation Sans',sans-serif;transform:scaleX(1.03)">0.9</div>
<div class="v sub" style="left:950.7px;top:517.74px;font:normal 22.8px/1 'Liberation Sans',sans-serif;transform:scaleX(1.03)">0.9</div>
<div class="r light" style="top:547.48px;height:40.98px"></div>
<div class="p light" style="top:547.48px;height:40.98px"></div>
<div class="t sub" id="r6" style="left:172.24px;top:557.57px;font:normal 21.8px/1 'Liberation Sans',sans-serif;letter-spacing:0.25px;transform:scaleX(1.0247)">Italy</div>
<div class="v sub" style="left:685.0px;top:557.62px;font:normal 22.8px/1 'Liberation Sans',sans-serif;transform:scaleX(1.03)">0.5</div>
<div class="v sub" style="left:820.6px;top:557.62px;font:normal 22.8px/1 'Liberation Sans',sans-serif;transform:scaleX(1.03)">0.5</div>
<div class="v sub" style="left:950.7px;top:557.62px;font:normal 22.8px/1 'Liberation Sans',sans-serif;transform:scaleX(1.03)">0.5</div>
<div class="r white" style="top:587.36px;height:40.18px"></div>
<div class="p white" style="top:587.36px;height:40.18px"></div>
<div class="t sub" id="r7" style="left:172.24px;top:597.45px;font:normal 21.8px/1 'Liberation Sans',sans-serif;letter-spacing:0.25px;transform:scaleX(1.0314)">Spain</div>
<div class="v sub" style="left:685.0px;top:597.50px;font:normal 22.8px/1 'Liberation Sans',sans-serif;transform:scaleX(1.03)">2.8</div>
<div class="v sub" style="left:820.6px;top:597.50px;font:normal 22.8px/1 'Liberation Sans',sans-serif;transform:scaleX(1.03)">2.1</div>
<div class="v sub" style="left:950.7px;top:597.50px;font:normal 22.8px/1 'Liberation Sans',sans-serif;transform:scaleX(1.03)">1.8</div>
<div class="r light" style="top:627.24px;height:40.98px"></div>
<div class="p light" style="top:627.24px;height:40.98px"></div>
<div class="t main" id="r8" style="left:161.90px;top:637.33px;font:bold 21.8px/1 'Liberation Sans',sans-serif;letter-spacing:0.1px;transform:scaleX(0.9774)">Japan</div>
<div class="v main" style="left:685.0px;top:637.38px;font:normal 22.8px/1 'Liberation Sans',sans-serif;transform:scaleX(1.03)">1.2</div>
<div class="v main" style="left:820.6px;top:637.38px;font:normal 22.8px/1 'Liberation Sans',sans-serif;transform:scaleX(1.03)">0.7</div>
<div class="v main" style="left:950.7px;top:637.38px;font:normal 22.8px/1 'Liberation Sans',sans-serif;transform:scaleX(1.03)">0.6</div>
<div class="r white" style="top:667.12px;height:40.18px"></div>
<div class="p white" style="top:667.12px;height:40.18px"></div>
<div class="t main" id="r9" style="left:161.00px;top:677.21px;font:bold 21.8px/1 'Liberation Sans',sans-serif;letter-spacing:0.1px;transform:scaleX(1.0232)">United Kingdom</div>
<div class="v main" style="left:685.0px;top:677.26px;font:normal 22.8px/1 'Liberation Sans',sans-serif;transform:scaleX(1.03)">1.3</div>
<div class="v main" style="left:820.6px;top:677.26px;font:normal 22.8px/1 'Liberation Sans',sans-serif;transform:scaleX(1.03)">0.8</div>
<div class="v main" style="left:950.7px;top:677.26px;font:normal 22.8px/1 'Liberation Sans',sans-serif;transform:scaleX(1.03)">1.3</div>
<div class="r light" style="top:707.00px;height:40.98px"></div>
<div class="p light" style="top:707.00px;height:40.98px"></div>
<div class="t main" id="r10" style="left:161.00px;top:717.09px;font:bold 21.8px/1 'Liberation Sans',sans-serif;letter-spacing:0.1px;transform:scaleX(0.9931)">Canada</div>
<div class="v main" style="left:685.0px;top:717.14px;font:normal 22.8px/1 'Liberation Sans',sans-serif;transform:scaleX(1.03)">1.7</div>
<div class="v main" style="left:820.6px;top:717.14px;font:normal 22.8px/1 'Liberation Sans',sans-serif;transform:scaleX(1.03)">1.5</div>
<div class="v main" style="left:950.7px;top:717.14px;font:normal 22.8px/1 'Liberation Sans',sans-serif;transform:scaleX(1.03)">1.9</div>
<div class="r white" style="top:746.88px;height:40.18px"></div>
<div class="p white" style="top:746.88px;height:40.18px"></div>
<div class="t main" id="r11" style="left:161.00px;top:756.97px;font:bold 21.8px/1 'Liberation Sans',sans-serif;letter-spacing:0.1px;transform:scaleX(0.9942)">Other Advanced Economies</div>
<div class="v main" style="left:685.0px;top:757.02px;font:normal 22.8px/1 'Liberation Sans',sans-serif;transform:scaleX(1.03)">3.0</div>
<div class="v main" style="left:820.6px;top:757.02px;font:normal 22.8px/1 'Liberation Sans',sans-serif;transform:scaleX(1.03)">2.6</div>
<div class="v main" style="left:950.7px;top:757.02px;font:normal 22.8px/1 'Liberation Sans',sans-serif;transform:scaleX(1.03)">2.2</div>
<div class="r blue" style="top:786.06px;height:41.68px"></div>
<div class="p blue" style="top:786.06px;height:41.68px"></div>
<div class="t w" id="r12" style="left:161.00px;top:796.85px;font:bold 21.8px/1 'Liberation Sans',sans-serif;letter-spacing:0.1px;transform:scaleX(1.0462)">Emerging Market and Developing Economies</div>
<div class="v w" style="left:685.0px;top:796.90px;font:bold 22.8px/1 'Liberation Sans',sans-serif;transform:scaleX(1.115)">4.4</div>
<div class="v w" style="left:820.6px;top:796.90px;font:bold 22.8px/1 'Liberation Sans',sans-serif;transform:scaleX(1.115)">3.9</div>
<div class="v w" style="left:950.7px;top:796.90px;font:bold 22.8px/1 'Liberation Sans',sans-serif;transform:scaleX(1.115)">4.2</div>
<div class="r light" style="top:826.64px;height:40.98px"></div>
<div class="p light" style="top:826.64px;height:40.98px"></div>
<div class="t main" id="r13" style="left:161.00px;top:836.73px;font:bold 21.8px/1 'Liberation Sans',sans-serif;letter-spacing:0.1px;transform:scaleX(0.9998)">Emerging and Developing Asia</div>
<div class="v main" style="left:685.0px;top:836.78px;font:normal 22.8px/1 'Liberation Sans',sans-serif;transform:scaleX(1.03)">5.5</div>
<div class="v main" style="left:820.6px;top:836.78px;font:normal 22.8px/1 'Liberation Sans',sans-serif;transform:scaleX(1.03)">4.9</div>
<div class="v main" style="left:950.7px;top:836.78px;font:normal 22.8px/1 'Liberation Sans',sans-serif;transform:scaleX(1.03)">4.8</div>
<div class="r white" style="top:866.52px;height:40.18px"></div>
<div class="p white" style="top:866.52px;height:40.18px"></div>
<div class="t sub" id="r14" style="left:172.24px;top:876.61px;font:normal 21.8px/1 'Liberation Sans',sans-serif;letter-spacing:0.25px;transform:scaleX(1.0165)">China</div>
<div class="v sub" style="left:685.0px;top:876.66px;font:normal 22.8px/1 'Liberation Sans',sans-serif;transform:scaleX(1.03)">5.0</div>
<div class="v sub" style="left:820.6px;top:876.66px;font:normal 22.8px/1 'Liberation Sans',sans-serif;transform:scaleX(1.03)">4.4</div>
<div class="v sub" style="left:950.7px;top:876.66px;font:normal 22.8px/1 'Liberation Sans',sans-serif;transform:scaleX(1.03)">4.0</div>
<div class="r light" style="top:906.40px;height:40.98px"></div>
<div class="p light" style="top:906.40px;height:40.98px"></div>
<div class="t sub" id="r15" style="left:172.24px;top:916.49px;font:normal 21.8px/1 'Liberation Sans',sans-serif;letter-spacing:0.25px;transform:scaleX(1.0285)">India</div>
<div class="v sub" style="left:685.0px;top:916.54px;font:normal 22.8px/1 'Liberation Sans',sans-serif;transform:scaleX(1.03)">7.6</div>
<div class="v sub" style="left:820.6px;top:916.54px;font:normal 22.8px/1 'Liberation Sans',sans-serif;transform:scaleX(1.03)">6.5</div>
<div class="v sub" style="left:950.7px;top:916.54px;font:normal 22.8px/1 'Liberation Sans',sans-serif;transform:scaleX(1.03)">6.5</div>
<div class="r white" style="top:946.28px;height:40.18px"></div>
<div class="p white" style="top:946.28px;height:40.18px"></div>
<div class="t main" id="r16" style="left:161.00px;top:956.37px;font:bold 21.8px/1 'Liberation Sans',sans-serif;letter-spacing:0.1px;transform:scaleX(1.0090)">Emerging and Developing Europe</div>
<div class="v main" style="left:685.0px;top:956.42px;font:normal 22.8px/1 'Liberation Sans',sans-serif;transform:scaleX(1.03)">2.0</div>
<div class="v main" style="left:820.6px;top:956.42px;font:normal 22.8px/1 'Liberation Sans',sans-serif;transform:scaleX(1.03)">2.0</div>
<div class="v main" style="left:950.7px;top:956.42px;font:normal 22.8px/1 'Liberation Sans',sans-serif;transform:scaleX(1.03)">2.1</div>
<div class="r light" style="top:986.16px;height:40.98px"></div>
<div class="p light" style="top:986.16px;height:40.98px"></div>
<div class="t sub" id="r17" style="left:172.24px;top:996.25px;font:normal 21.8px/1 'Liberation Sans',sans-serif;letter-spacing:0.25px;transform:scaleX(0.9288)">Russia</div>
<div class="v sub" style="left:685.0px;top:996.30px;font:normal 22.8px/1 'Liberation Sans',sans-serif;transform:scaleX(1.03)">1.0</div>
<div class="v sub" style="left:820.6px;top:996.30px;font:normal 22.8px/1 'Liberation Sans',sans-serif;transform:scaleX(1.03)">1.1</div>
<div class="v sub" style="left:950.7px;top:996.30px;font:normal 22.8px/1 'Liberation Sans',sans-serif;transform:scaleX(1.03)">1.1</div>
<div class="r white" style="top:1026.04px;height:40.18px"></div>
<div class="p white" style="top:1026.04px;height:40.18px"></div>
<div class="t main" id="r18" style="left:161.00px;top:1036.13px;font:bold 21.8px/1 'Liberation Sans',sans-serif;letter-spacing:0.1px;transform:scaleX(0.9919)">Latin America and the Caribbean</div>
<div class="v main" style="left:685.0px;top:1036.18px;font:normal 22.8px/1 'Liberation Sans',sans-serif;transform:scaleX(1.03)">2.4</div>
<div class="v main" style="left:820.6px;top:1036.18px;font:normal 22.8px/1 'Liberation Sans',sans-serif;transform:scaleX(1.03)">2.3</div>
<div class="v main" style="left:950.7px;top:1036.18px;font:normal 22.8px/1 'Liberation Sans',sans-serif;transform:scaleX(1.03)">2.7</div>
<div class="r light" style="top:1065.92px;height:40.98px"></div>
<div class="p light" style="top:1065.92px;height:40.98px"></div>
<div class="t sub" id="r19" style="left:172.24px;top:1076.01px;font:normal 21.8px/1 'Liberation Sans',sans-serif;letter-spacing:0.25px;transform:scaleX(1.0314)">Brazil</div>
<div class="v sub" style="left:685.0px;top:1076.06px;font:normal 22.8px/1 'Liberation Sans',sans-serif;transform:scaleX(1.03)">2.3</div>
<div class="v sub" style="left:820.6px;top:1076.06px;font:normal 22.8px/1 'Liberation Sans',sans-serif;transform:scaleX(1.03)">1.9</div>
<div class="v sub" style="left:950.7px;top:1076.06px;font:normal 22.8px/1 'Liberation Sans',sans-serif;transform:scaleX(1.03)">2.0</div>
<div class="r white" style="top:1105.80px;height:40.18px"></div>
<div class="p white" style="top:1105.80px;height:40.18px"></div>
<div class="t sub" id="r20" style="left:172.24px;top:1115.89px;font:normal 21.8px/1 'Liberation Sans',sans-serif;letter-spacing:0.25px;transform:scaleX(1.0615)">Mexico</div>
<div class="v sub" style="left:685.0px;top:1115.94px;font:normal 22.8px/1 'Liberation Sans',sans-serif;transform:scaleX(1.03)">0.6</div>
<div class="v sub" style="left:820.6px;top:1115.94px;font:normal 22.8px/1 'Liberation Sans',sans-serif;transform:scaleX(1.03)">1.6</div>
<div class="v sub" style="left:950.7px;top:1115.94px;font:normal 22.8px/1 'Liberation Sans',sans-serif;transform:scaleX(1.03)">2.2</div>
<div class="r light" style="top:1145.68px;height:40.98px"></div>
<div class="p light" style="top:1145.68px;height:40.98px"></div>
<div class="t main" id="r21" style="left:161.00px;top:1155.77px;font:bold 21.8px/1 'Liberation Sans',sans-serif;letter-spacing:0.1px;transform:scaleX(0.9902)">Middle East and Central Asia</div>
<div class="v main" style="left:685.0px;top:1155.82px;font:normal 22.8px/1 'Liberation Sans',sans-serif;transform:scaleX(1.03)">3.6</div>
<div class="v main" style="left:820.6px;top:1155.82px;font:normal 22.8px/1 'Liberation Sans',sans-serif;transform:scaleX(1.03)">1.9</div>
<div class="v main" style="left:950.7px;top:1155.82px;font:normal 22.8px/1 'Liberation Sans',sans-serif;transform:scaleX(1.03)">4.6</div>
<div class="r white" style="top:1185.56px;height:40.18px"></div>
<div class="p white" style="top:1185.56px;height:40.18px"></div>
<div class="t sub" id="r22" style="left:172.24px;top:1195.65px;font:normal 21.8px/1 'Liberation Sans',sans-serif;letter-spacing:0.25px;transform:scaleX(1.0273)">Saudi Arabia</div>
<div class="v sub" style="left:685.0px;top:1195.70px;font:normal 22.8px/1 'Liberation Sans',sans-serif;transform:scaleX(1.03)">4.5</div>
<div class="v sub" style="left:820.6px;top:1195.70px;font:normal 22.8px/1 'Liberation Sans',sans-serif;transform:scaleX(1.03)">3.1</div>
<div class="v sub" style="left:950.7px;top:1195.70px;font:normal 22.8px/1 'Liberation Sans',sans-serif;transform:scaleX(1.03)">4.5</div>
<div class="r light" style="top:1225.44px;height:40.98px"></div>
<div class="p light" style="top:1225.44px;height:40.98px"></div>
<div class="t main" id="r23" style="left:161.00px;top:1235.53px;font:bold 21.8px/1 'Liberation Sans',sans-serif;letter-spacing:0.1px;transform:scaleX(0.9617)">Sub-Saharan Africa</div>
<div class="v main" style="left:685.0px;top:1235.58px;font:normal 22.8px/1 'Liberation Sans',sans-serif;transform:scaleX(1.03)">4.5</div>
<div class="v main" style="left:820.6px;top:1235.58px;font:normal 22.8px/1 'Liberation Sans',sans-serif;transform:scaleX(1.03)">4.3</div>
<div class="v main" style="left:950.7px;top:1235.58px;font:normal 22.8px/1 'Liberation Sans',sans-serif;transform:scaleX(1.03)">4.4</div>
<div class="r white" style="top:1265.32px;height:40.18px"></div>
<div class="p white" style="top:1265.32px;height:40.18px"></div>
<div class="t sub" id="r24" style="left:172.24px;top:1275.41px;font:normal 21.8px/1 'Liberation Sans',sans-serif;letter-spacing:0.25px;transform:scaleX(1.0611)">Nigeria</div>
<div class="v sub" style="left:685.0px;top:1275.46px;font:normal 22.8px/1 'Liberation Sans',sans-serif;transform:scaleX(1.03)">4.0</div>
<div class="v sub" style="left:820.6px;top:1275.46px;font:normal 22.8px/1 'Liberation Sans',sans-serif;transform:scaleX(1.03)">4.1</div>
<div class="v sub" style="left:950.7px;top:1275.46px;font:normal 22.8px/1 'Liberation Sans',sans-serif;transform:scaleX(1.03)">4.3</div>
<div class="r light" style="top:1305.20px;height:40.98px"></div>
<div class="p light" style="top:1305.20px;height:40.98px"></div>
<div class="t sub" id="r25" style="left:172.24px;top:1315.29px;font:normal 21.8px/1 'Liberation Sans',sans-serif;letter-spacing:0.25px;transform:scaleX(1.0338)">South Africa</div>
<div class="v sub" style="left:685.0px;top:1315.34px;font:normal 22.8px/1 'Liberation Sans',sans-serif;transform:scaleX(1.03)">1.1</div>
<div class="v sub" style="left:820.6px;top:1315.34px;font:normal 22.8px/1 'Liberation Sans',sans-serif;transform:scaleX(1.03)">1.0</div>
<div class="v sub" style="left:950.7px;top:1315.34px;font:normal 22.8px/1 'Liberation Sans',sans-serif;transform:scaleX(1.03)">1.3</div>
<div class="r white" style="top:1345.08px;height:40.18px"></div>
<div class="p white" style="top:1345.08px;height:40.18px"></div>
<div class="t memo" id="r26" style="left:161.90px;top:1355.17px;font:italic bold 21.8px/1 'Liberation Sans',sans-serif;letter-spacing:0.1px;transform:scaleX(1.0626)">Memorandum</div>
<div class="r light" style="top:1384.96px;height:40.98px"></div>
<div class="p light" style="top:1384.96px;height:40.98px"></div>
<div class="t main" id="r27" style="left:161.00px;top:1395.05px;font:bold 21.8px/1 'Liberation Sans',sans-serif;letter-spacing:0.1px;transform:scaleX(1.0037)">Emerging Market and Middle-Income Economies</div>
<div class="v main" style="left:685.0px;top:1395.10px;font:normal 22.8px/1 'Liberation Sans',sans-serif;transform:scaleX(1.03)">4.4</div>
<div class="v main" style="left:820.6px;top:1395.10px;font:normal 22.8px/1 'Liberation Sans',sans-serif;transform:scaleX(1.03)">3.8</div>
<div class="v main" style="left:950.7px;top:1395.10px;font:normal 22.8px/1 'Liberation Sans',sans-serif;transform:scaleX(1.03)">4.1</div>
<div class="r white" style="top:1424.84px;height:40.18px"></div>
<div class="p white" style="top:1424.84px;height:40.18px"></div>
<div class="t main" id="r28" style="left:161.00px;top:1434.93px;font:bold 21.8px/1 'Liberation Sans',sans-serif;letter-spacing:0.1px;transform:scaleX(0.9950)">Low-Income Developing Countries</div>
<div class="v main" style="left:685.0px;top:1434.98px;font:normal 22.8px/1 'Liberation Sans',sans-serif;transform:scaleX(1.03)">4.8</div>
<div class="v main" style="left:820.6px;top:1434.98px;font:normal 22.8px/1 'Liberation Sans',sans-serif;transform:scaleX(1.03)">4.8</div>
<div class="v main" style="left:950.7px;top:1434.98px;font:normal 22.8px/1 'Liberation Sans',sans-serif;transform:scaleX(1.03)">4.9</div>
<div class="t" id="src" style="left:161.00px;top:1563.5px;font:normal 16.5px/1 'Liberation Sans',sans-serif;color:#4a5b74;letter-spacing:0.1px;transform:scaleX(1.0438);">Source: IMF, <i>World Economic Outlook,</i> April 2026</div>
<div class="t" id="n0" style="left:161.00px;top:1603.5px;font:normal 16px/1 'Liberation Sans',sans-serif;color:#4a6288;letter-spacing:0.1px;transform:scaleX(1.0770);">Note: For India, data and projections are presented on a fiscal year (FY) basis, with FY 2025/26 (starting in April</div>
<div class="t" id="n1" style="left:161.00px;top:1623.1px;font:normal 16px/1 'Liberation Sans',sans-serif;color:#4a6288;letter-spacing:0.1px;transform:scaleX(1.0925);">2025) shown in the 2025 column. India's growth projections are 6.6 percent for 2026 and 6.7 percent for 2027</div>
<div class="t" id="n2" style="left:161.00px;top:1642.8px;font:normal 16px/1 'Liberation Sans',sans-serif;color:#4a6288;letter-spacing:0.1px;transform:scaleX(1.0923);">based on calendar year.</div>
<div class="abs" style="left:113.8px;top:1696px;width:971.8px;height:15px;background:#05509f"></div>
<div class="abs" style="left:1020.5px;top:1612.5px;width:149px;height:149px;border-radius:50%;background:#05509f"></div>
<svg class="abs" style="left:1065px;top:1670px" width="60" height="35" viewBox="0 0 60 35"><path d="M30 5 L54.5 29.5 L6 29.5 Z" fill="#fff"/></svg>
</body></html>
